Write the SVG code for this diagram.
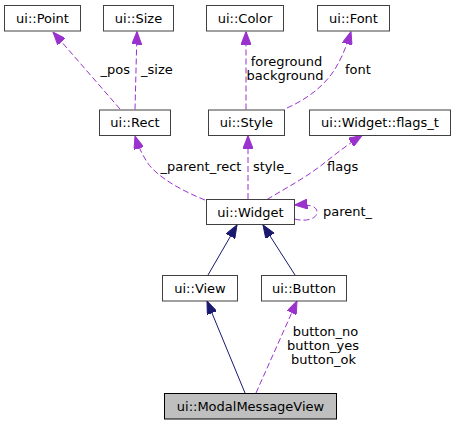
<svg xmlns="http://www.w3.org/2000/svg" width="455" height="425" viewBox="0 0 455 425">
<style>
text{font-family:"DejaVu Sans","Liberation Sans",sans-serif;font-size:13px;fill:#000}
.n text{text-anchor:middle}
.n rect{fill:#fff;stroke:#404040;stroke-width:1}
#modal rect{fill:#bfbfbf;stroke:#000}
.d{fill:none;stroke:#9a32cd;stroke-width:1;stroke-dasharray:6,3}
.s{fill:none;stroke:#191970;stroke-width:1}
</style>
<defs>
<marker id="ap" markerUnits="userSpaceOnUse" viewBox="0 0 13 10" refX="13" refY="5" markerWidth="13" markerHeight="10" orient="auto">
<path d="M0,0 L13,5 L0,10 z" fill="#9a32cd" stroke="#9a32cd"/>
</marker>
<marker id="an" markerUnits="userSpaceOnUse" viewBox="0 0 13 10" refX="13" refY="5" markerWidth="13" markerHeight="10" orient="auto">
<path d="M0,0 L13,5 L0,10 z" fill="#191970" stroke="#191970"/>
</marker>
</defs>
<g id="edges">
<path class="d" marker-end="url(#ap)" d="M120,109 L53,32"/>
<path class="d" marker-end="url(#ap)" d="M135,109.5 L137,31.5"/>
<path class="d" marker-end="url(#ap)" d="M246,109.5 L246,31.5"/>
<path class="d" marker-end="url(#ap)" d="M287,108 C305,100 322,88 333,72 C340,62 346,48 351,31.5"/>
<path class="d" marker-end="url(#ap)" d="M205,200 C180,190 156,176 147,162 C142,154 138,146 135,136"/>
<path class="d" marker-end="url(#ap)" d="M248,199 L248,135.5"/>
<path class="d" marker-end="url(#ap)" d="M267,199.5 C288,187 308,176 323,164 C338,152 350,143 362,135.5"/>
<path class="d" marker-end="url(#ap)" d="M294.5,219 C306,222 317,219 317,212 C317,206 308,204 294.5,205"/>
<path class="s" marker-end="url(#an)" d="M208,275 L237,225"/>
<path class="s" marker-end="url(#an)" d="M295,275 L263,225"/>
<path class="s" marker-end="url(#an)" d="M245,393 L207,301"/>
<path class="d" marker-end="url(#ap)" d="M256,393 L297,301"/>
<text x="130" y="74" text-anchor="end">_pos</text>
<text x="141" y="74">_size</text>
<text x="286.5" y="65.5" text-anchor="middle">foreground</text>
<text x="285" y="80" text-anchor="middle">background</text>
<text x="345" y="73.5">font</text>
<text x="201" y="170.5" text-anchor="middle">_parent_rect</text>
<text x="253" y="170.5">style_</text>
<text x="327" y="170.5">flags</text>
<text x="323" y="216">parent_</text>
<text x="325.5" y="335.5" text-anchor="middle">button_no</text>
<text x="323" y="349.5" text-anchor="middle">button_yes</text>
<text x="323.5" y="363.5" text-anchor="middle">button_ok</text>
</g>
<g id="point" class="n"><rect x="4.5" y="5.5" width="76" height="25.5"/><text x="42.5" y="22.5">ui::Point</text></g>
<g id="size" class="n"><rect x="103.5" y="5.5" width="70" height="25.5"/><text x="138.5" y="22.5">ui::Size</text></g>
<g id="color" class="n"><rect x="206.5" y="5.5" width="77" height="25.5"/><text x="245" y="22.5">ui::Color</text></g>
<g id="font" class="n"><rect x="317.5" y="5.5" width="72" height="25.5"/><text x="353.5" y="22.5">ui::Font</text></g>
<g id="rect" class="n"><rect x="99.5" y="110" width="71" height="25.5"/><text x="135" y="127">ui::Rect</text></g>
<g id="style" class="n"><rect x="208.5" y="110" width="76" height="25.5"/><text x="246.5" y="127">ui::Style</text></g>
<g id="flags_t" class="n"><rect x="309.5" y="110" width="141" height="25.5"/><text x="380" y="127">ui::Widget::flags_t</text></g>
<g id="widget" class="n"><rect x="206.5" y="199.5" width="88" height="25"/><text x="250.5" y="216.5">ui::Widget</text></g>
<g id="view" class="n"><rect x="162.5" y="275.5" width="75" height="25.5"/><text x="200" y="292.5">ui::View</text></g>
<g id="button" class="n"><rect x="261.5" y="275.5" width="85" height="25.5"/><text x="304" y="292.5">ui::Button</text></g>
<g id="modal" class="n"><rect x="164.5" y="393.5" width="172" height="25.5"/><text x="250.5" y="410.5">ui::ModalMessageView</text></g>
</svg>
